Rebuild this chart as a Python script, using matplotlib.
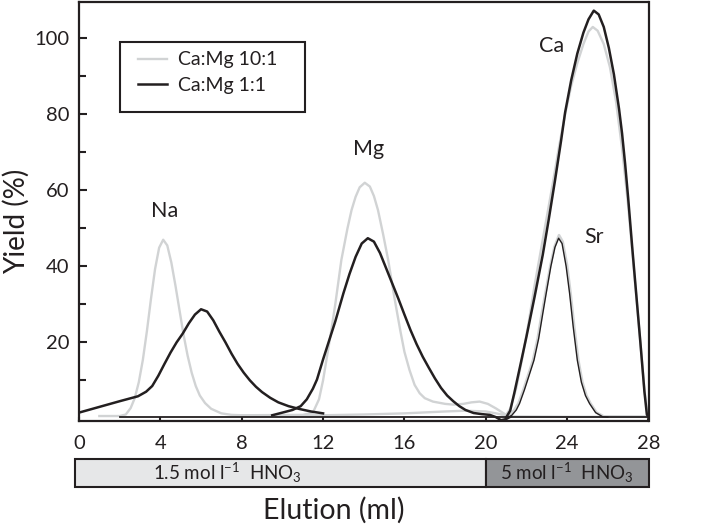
import matplotlib
matplotlib.use('Agg')
import matplotlib.pyplot as plt
from matplotlib.patches import Rectangle

plt.rcParams.update({'font.family': ['Lato', 'DejaVu Sans'],
                     'mathtext.fontset': 'custom',
                     'mathtext.rm': 'Lato',
                     'mathtext.it': 'Lato:italic',
                     'mathtext.bf': 'Lato:bold',
                     'text.color': '#231f20',
                     'axes.edgecolor': '#231f20',
                     'xtick.color': '#231f20',
                     'ytick.color': '#231f20'})

GRAY = '#d1d3d4'
BLACK = '#231f20'

# Ca:Mg 10:1 (grey traces)
g_na_x = [1.0, 2.0, 2.3, 2.54, 2.74, 2.94, 3.14, 3.34, 3.54, 3.74, 3.94, 4.14, 4.34, 4.54, 4.74,
          4.94, 5.14, 5.34, 5.54, 5.74, 5.94, 6.2, 6.5, 7.0, 7.5, 8.0, 10.0, 12.0, 14.0, 16.0,
          18.0, 19.0, 20.0, 20.6, 21.2, 24.0, 28.0]
g_na_y = [0.6, 0.6, 1.0, 2.7, 5.3, 9.5, 15.4, 23.0, 31.5, 39.3, 44.9, 47.0, 45.5, 41.0, 35.0,
          28.5, 22.0, 16.5, 12.0, 8.5, 6.0, 4.0, 2.5, 1.3, 0.9, 0.8, 0.7, 0.8, 1.0, 1.3,
          1.8, 2.0, 1.8, 1.2, 0.5, 0.4, 0.4]

g_mg_x = [8.0, 11.0, 11.5, 11.8, 12.0, 12.2, 12.4, 12.6, 12.9, 13.2, 13.4, 13.6, 13.8, 14.05,
          14.3, 14.5, 14.7, 14.95, 15.2, 15.5, 15.8, 16.0, 16.25, 16.5, 16.75, 17.0, 17.4, 18.0,
          18.4, 18.9, 19.3, 19.7, 20.1, 20.5, 21.0, 21.2]
g_mg_y = [0.8, 0.9, 1.5, 5.0, 10.0, 16.5, 23.0, 30.0, 41.7, 50.0, 54.8, 58.3, 60.8, 62.0,
          61.0, 58.5, 54.8, 48.5, 41.7, 32.0, 23.0, 17.5, 12.7, 8.8, 6.6, 5.3, 4.4, 3.8,
          3.6, 3.8, 4.2, 4.4, 3.8, 2.6, 0.9, 0.6]

g_ca_x = [20.8, 21.0, 21.2, 21.5, 21.8, 22.1, 22.4, 22.7, 23.0, 23.3, 23.6, 23.9, 24.2, 24.5,
          24.8, 25.05, 25.26, 25.5, 25.8, 26.1, 26.4, 26.7, 27.0, 27.2, 27.4, 27.6, 27.8, 27.95, 28.0]
g_ca_y = [1.0, 0.9, 2.5, 8.0, 16.0, 25.0, 35.0, 44.0, 53.0, 62.0, 71.5, 80.0, 87.5, 93.5,
          98.5, 101.8, 103.0, 102.0, 98.5, 92.5, 83.5, 71.0, 56.0, 44.0, 32.0, 20.0, 7.5, 1.0, 0.3]

g_sr_x = [21.1, 21.4, 21.6, 21.85, 22.05, 22.32, 22.55, 22.75, 22.93, 23.17, 23.38, 23.6,
          23.78, 23.99, 24.17, 24.35, 24.55, 24.75, 24.95, 25.15, 25.45, 25.8, 28.0]
g_sr_y = [0.4, 2.2, 3.9, 7.5, 10.8, 15.3, 21.0, 27.5, 32.9, 40.0, 45.2, 48.2,
          46.5, 40.5, 32.9, 24.0, 15.3, 9.5, 6.0, 3.9, 1.5, 0.5, 0.4]

# Ca:Mg 1:1 (black traces)
b_na_x = [0.0, 1.0, 2.0, 2.9, 3.3, 3.6, 3.9, 4.2, 4.5, 4.8, 5.1, 5.4, 5.7, 6.0, 6.3, 6.6,
          6.9, 7.2, 7.5, 7.8, 8.1, 8.4, 8.7, 9.0, 9.4, 9.8, 10.3, 10.8, 11.4, 12.0]
b_na_y = [1.5, 3.0, 4.5, 5.8, 7.0, 8.5, 11.2, 14.3, 17.3, 20.0, 22.3, 25.0, 27.3, 28.7, 28.1, 25.8,
          22.8, 20.0, 17.0, 14.3, 12.0, 10.0, 8.3, 6.9, 5.4, 4.2, 3.2, 2.5, 1.8, 1.3]

b_mg_x = [9.5, 10.0, 10.5, 10.9, 11.2, 11.5, 11.7, 12.0, 12.3, 12.6, 13.0, 13.3, 13.6, 13.9,
          14.2, 14.5, 14.8, 15.1, 15.4, 15.7, 16.0, 16.3, 16.6, 16.9, 17.2, 17.5, 17.8, 18.1,
          18.4, 18.7, 19.0, 19.4, 19.8, 20.2, 20.5, 20.75, 21.0, 21.2]
b_mg_y = [0.8, 1.5, 2.2, 3.2, 5.0, 7.8, 10.2, 15.5, 20.5, 25.5, 32.9, 38.0, 42.5, 46.0,
          47.4, 46.5, 43.5, 39.5, 35.5, 31.5, 27.3, 23.2, 19.5, 16.2, 13.3, 10.5, 8.0, 6.0,
          4.5, 3.2, 2.2, 1.4, 1.1, 0.9, 0.3, -0.5, -0.2, 0.4]

b_ca_x = [21.0, 21.2, 21.4, 21.7, 22.0, 22.4, 22.8, 23.1, 23.4, 23.7, 23.9, 24.2, 24.5, 24.8,
          25.05, 25.31, 25.55, 25.8, 26.05, 26.3, 26.55, 26.7, 26.85, 27.0, 27.2, 27.4, 27.6,
          27.8, 27.92, 28.0]
b_ca_y = [0.2, 2.0, 6.6, 14.0, 21.5, 32.0, 43.0, 52.5, 62.5, 73.0, 80.5, 89.0, 96.0, 101.5,
          105.0, 107.3, 106.3, 103.0, 97.5, 90.5, 81.5, 75.0, 67.0, 58.0, 45.0, 32.5, 20.0,
          7.0, 1.0, 0.3]

b_sr_x = [21.2, 21.5, 21.66, 21.9, 22.1, 22.37, 22.6, 22.8, 22.97, 23.2, 23.4, 23.58,
          23.75, 23.95, 24.12, 24.3, 24.5, 24.7, 24.9, 25.1, 25.4, 25.75, 26.0]
b_sr_y = [0.3, 2.2, 3.9, 7.5, 10.8, 15.3, 21.0, 27.5, 32.9, 40.0, 45.0, 47.4,
          46.0, 40.0, 32.9, 24.0, 15.3, 9.5, 6.0, 3.9, 1.5, 0.4, 0.3]

b_base_x = [2.0, 28.0]
b_base_y = [0.25, 0.25]

peak_names = ['Na', 'Mg', 'Ca', 'Sr']
peak_x = [4.23, 14.24, 23.21, 25.3]
peak_y = [53.0, 69.3, 96.5, 46.1]

xticks = [0, 4, 8, 12, 16, 20, 24, 28]
yticks = [20, 40, 60, 80, 100]

eluents = ['1.5 mol l$^{-1}$  HNO$_3$', '5 mol l$^{-1}$  HNO$_3$']
eluent_start = [-0.2, 20.0]
eluent_end = [20.0, 28.0]
eluent_text_x = [7.27, 23.97]
eluent_colors = ['#e6e7e8', '#939598']

fig = plt.figure(figsize=(7.06, 5.28), dpi=100)
ax = fig.add_axes([79 / 706, 1 - 420.7 / 528, 569.5 / 706, 419.2 / 528])

ax.plot(g_na_x, g_na_y, color=GRAY, lw=1.7, label='Ca:Mg 10:1')
ax.plot(g_mg_x, g_mg_y, color=GRAY, lw=1.7)
ax.plot(g_sr_x, g_sr_y, color=GRAY, lw=1.9)
ax.plot(g_ca_x, g_ca_y, color=GRAY, lw=1.7)
ax.plot(b_base_x, b_base_y, color=BLACK, lw=1.3)
ax.plot(b_na_x, b_na_y, color=BLACK, lw=1.8, label='Ca:Mg 1:1')
ax.plot(b_mg_x, b_mg_y, color=BLACK, lw=1.8)
ax.plot(b_ca_x, b_ca_y, color=BLACK, lw=1.8)
ax.plot(b_sr_x, b_sr_y, color=BLACK, lw=1.0)

for name, px, py in zip(peak_names, peak_x, peak_y):
    ax.text(px, py, name, fontsize=15.5, ha='center', va='baseline')

ax.set_xlim(0, 28)
ax.set_ylim(-0.63, 109.7)
ax.set_xticks(xticks)
ax.set_yticks(yticks)
ax.set_yticks([10, 30, 50, 70, 90], minor=True)
ax.tick_params(axis='y', which='major', direction='in', length=6, width=1.5, labelsize=14.5, pad=7)
ax.tick_params(axis='y', which='minor', direction='in', length=5, width=1.5)
ax.tick_params(axis='x', which='major', direction='in', length=3, width=1.5, labelsize=14.5, pad=10)
for s in ax.spines.values():
    s.set_linewidth(1.6)

# legend without its own frame; the box is drawn as a rectangle in pixel-matched axes coords
leg = ax.legend(loc='upper left', bbox_to_anchor=(59 / 569.5, 1 - 50 / 419.2), borderaxespad=0,
                fontsize=14, frameon=False, handlelength=1.5, handletextpad=0.55,
                borderpad=0, labelspacing=0.42)
for t in leg.get_texts():
    t.set_color(BLACK)
ax.add_patch(Rectangle((41 / 569.5, 1 - 110.8 / 419.2), 185 / 569.5, 70.6 / 419.2,
                       transform=ax.transAxes, facecolor='none', edgecolor=BLACK, lw=1.5))

fig.text(16 / 706, 1 - 221.5 / 528, 'Yield (%)', fontsize=20, rotation=90, ha='center', va='center')
fig.text(334 / 706, 1 - 510 / 528, 'Elution (ml)', fontsize=20.5, ha='center', va='center')

# eluent bar below the axis
bar = fig.add_axes([75 / 706, 1 - 487 / 528, 574 / 706, 28 / 528])
bar.set_xlim(-0.2, 28)
bar.set_ylim(0, 1)
bar.axis('off')
for lab, x0, x1, tx, c in zip(eluents, eluent_start, eluent_end, eluent_text_x, eluent_colors):
    bar.add_patch(Rectangle((x0, 0), x1 - x0, 1, facecolor=c, edgecolor=BLACK, lw=1.5, clip_on=False))
    bar.text(tx, 0.5, lab, fontsize=13.5, ha='center', va='center')

plt.savefig('out.png', dpi=100)
